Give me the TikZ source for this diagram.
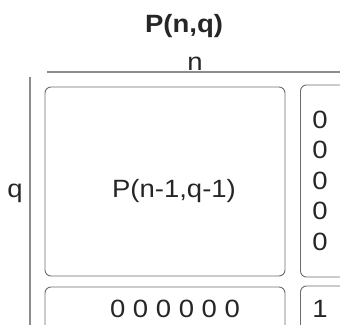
\documentclass[tikz,border=0pt]{standalone}
\usepackage{fontspec}
\setmainfont{Liberation Sans}[FakeStretch=1.1]
\usetikzlibrary{positioning}

\begin{document}
\begin{tikzpicture}[x=1pt, y=-1pt, font=\fontsize{25}{29}\selectfont,
    cell node/.style={draw=gray!85!black, line width=0.9pt, rounded corners=6pt, inner sep=0pt},
    axis line/.style={draw=gray!90, line width=1.4pt},
    label node/.style={inner sep=0pt, anchor=base, text=black!85}]
\useasboundingbox (0,0) rectangle (340,324);
\clip (0,0) rectangle (340,324);
% heading and axes
\node[label node, font=\fontsize{25}{29}\selectfont\bfseries] (title) at (184,32) {P(n,q)};
\node[label node] (nlab) at (195,70) {n};
\node[label node] (qlab) at (15,197) {q};
\coordinate (nl) at (47,72);
\coordinate (nr) at (345,72);
\coordinate (qt) at (30,77);
\coordinate (qb) at (30,330);
\draw[axis line] (nl) -- (nr);
\draw[axis line] (qt) -- (qb);
% cells
\node[cell node, minimum width=240pt, minimum height=189pt] (big) at (165,181.5) {};
\node[cell node, minimum width=60pt, minimum height=192pt] (col) at (330.5,181) {};
\node[cell node, minimum width=240pt, minimum height=50pt] (row) at (165,312) {};
\node[cell node, minimum width=60pt, minimum height=50pt] (corner) at (330.5,311) {};
% cell texts
\node[label node] (rec) at (174,197) {P(n-1,q-1)};
\foreach \i/\y in {1/128,2/158.5,3/189,4/219.5,5/250}
  \node[label node] (z\i) at (320,\y) {0};
\node[label node] (zeros) at (175,317) {0 0 0 0 0 0};
\node[label node] (one) at (320,317) {1};
\end{tikzpicture}
\end{document}
